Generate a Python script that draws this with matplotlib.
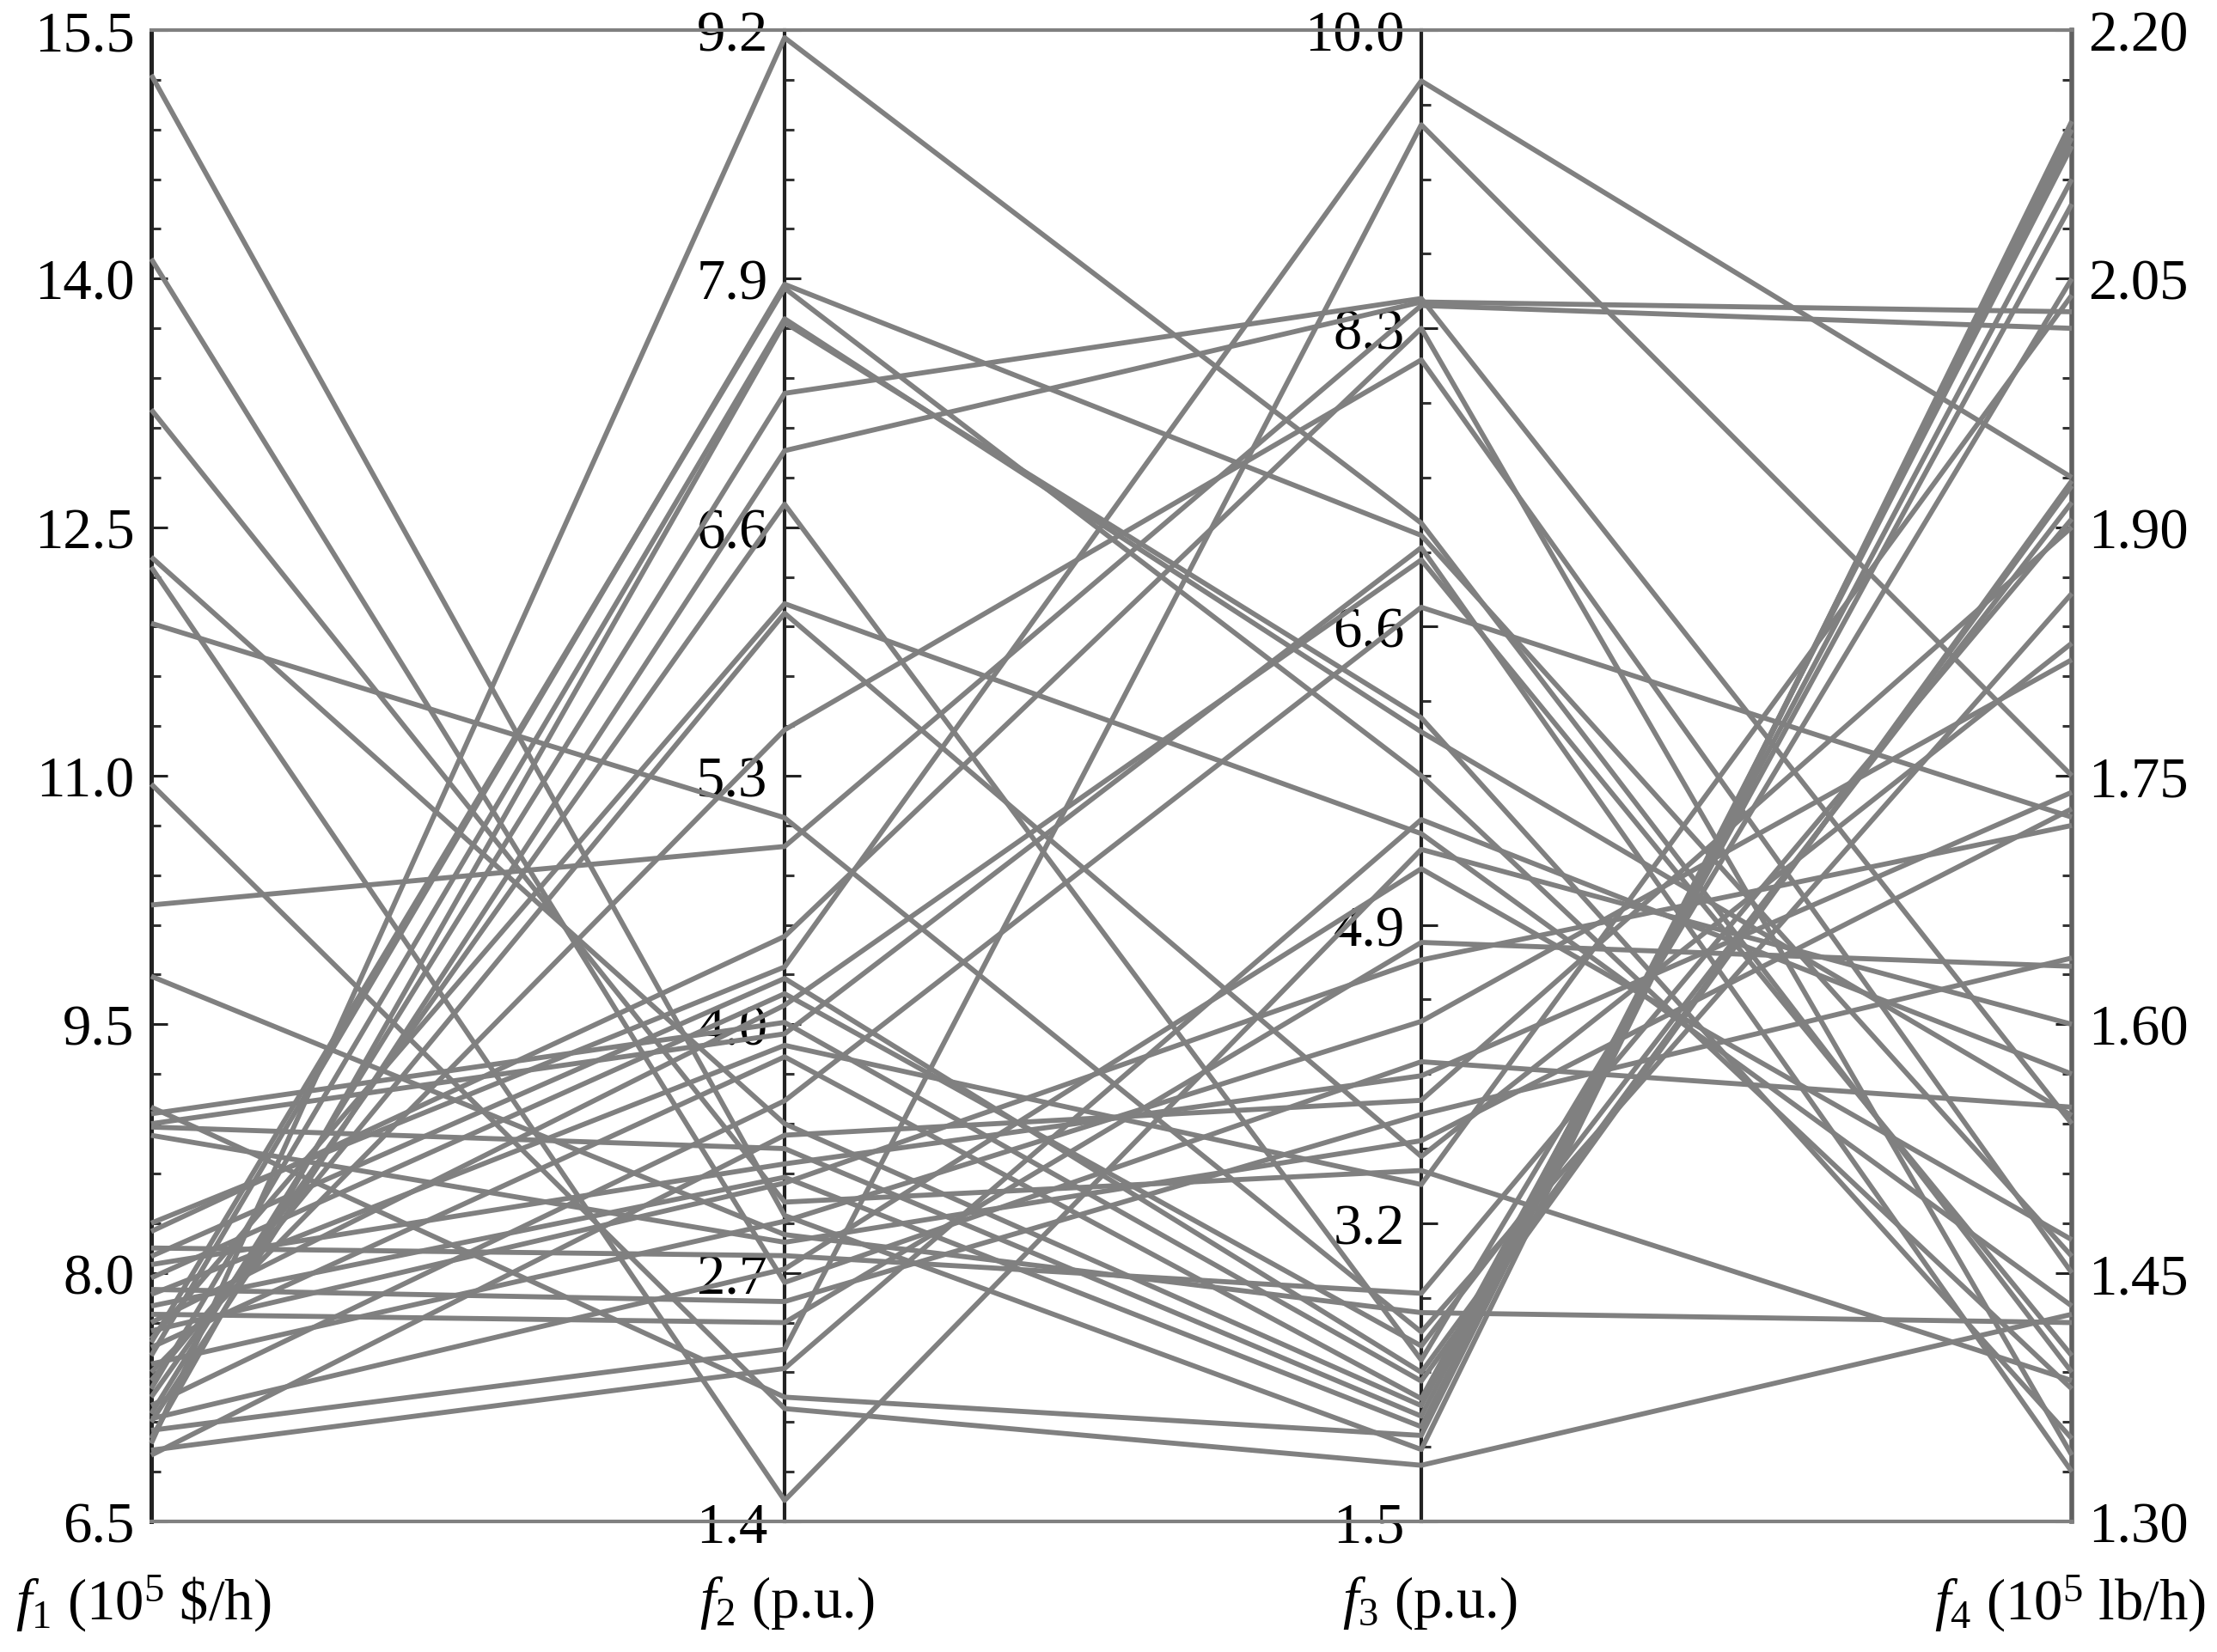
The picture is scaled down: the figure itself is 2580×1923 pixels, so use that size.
import numpy as np
import matplotlib
matplotlib.use('Agg')
import matplotlib.pyplot as plt
from matplotlib.ticker import AutoMinorLocator, FormatStrFormatter

plt.rcParams['font.family'] = ['Liberation Serif', 'DejaVu Serif']
plt.rcParams['mathtext.fontset'] = 'custom'
plt.rcParams['mathtext.rm'] = 'Liberation Serif'
plt.rcParams['mathtext.it'] = 'Liberation Serif:italic'

# objective values of each solution (one entry per solution)
f1 = [15.23, 14.12, 13.21, 12.32, 12.26, 11.92, 10.95, 10.22, 9.79, 9.0, 8.96,
      8.9, 8.88, 8.83, 8.3, 8.25, 8.15, 8.1, 8.05, 7.97, 7.9, 7.87, 7.8, 7.75,
      7.7, 7.65, 7.6, 7.58, 7.55, 7.5, 7.45, 7.4, 7.35, 7.3, 7.25, 7.2, 7.15,
      7.12, 7.1, 7.05, 7.0, 6.97, 6.93, 6.9]
f2 = [3.0, 2.65, 3.07, 3.48, 1.51, 5.08, 1.99, 4.93, 2.9, 2.05, 4.01,
      3.95, 3.35, 2.86, 4.3, 4.46, 2.79, 4.24, 3.27, 4.16, 2.55, 3.89, 3.2, 2.44,
      4.1, 3.17, 6.2, 7.85, 3.83, 7.87, 2.97, 5.54, 6.15, 7.69, 6.72, 3.6, 7.3,
      2.72, 7.0, 2.3, 7.67, 9.16, 2.2, 3.42]
f3 = [1.91, 4.12, 3.5, 2.16, 5.33, 2.58, 1.82, 8.43, 2.69, 1.99, 2.3,
      7.05, 2.1, 3.67, 9.71, 8.3, 2.8, 2.35, 4.04, 2.5, 3.82, 3.42, 2.04, 4.8,
      6.98, 4.7, 5.42, 5.75, 2.2, 7.12, 4.35, 8.12, 3.58, 6.0, 2.42, 6.71, 8.47,
      5.22, 8.45, 9.46, 6.08, 7.19, 5.5, 3.9]
f4 = [2.145, 1.55, 1.385, 2.11, 1.60, 1.86, 1.425, 2.02, 1.42, 2.14, 1.928,
      1.33, 2.13, 1.73, 1.93, 1.34, 1.905, 1.925, 1.74, 1.915, 1.64, 2.04, 2.135, 1.635,
      1.40, 1.72, 1.43, 1.38, 2.095, 1.46, 1.82, 1.45, 1.83, 1.545, 2.05, 1.725, 1.54,
      1.47, 2.03, 1.75, 1.35, 1.39, 1.57, 1.90]

# axis ranges, tick steps and labels
lows = [6.5, 1.4, 1.5, 1.30]
highs = [15.5, 9.2, 10.0, 2.20]
steps = [1.5, 1.3, 1.7, 0.15]
minors = [5, 5, 4, 5]
fmts = ['%.1f', '%.1f', '%.1f', '%.2f']
names = [r'$f_1$ (10$^5$ \$/h)', r'$f_2$ (p.u.)', r'$f_3$ (p.u.)',
         r'$f_4$ (10$^5$ lb/h)']
xpos = [0.0, 0.3298, 0.6613, 1.0]

fig = plt.figure(figsize=(12.9, 9.62), dpi=200)
ax = fig.add_axes([0.0682, 0.079, 0.8663, 0.9023])
ax.set_xlim(0, 1)
ax.set_ylim(0, 1)
ax.set_xticks([])
ax.set_yticks([])
ax.spines['left'].set_visible(False)
ax.spines['right'].set_visible(False)
for s in ['top', 'bottom']:
    ax.spines[s].set_color('#808080')
    ax.spines[s].set_linewidth(1.5)

# scale every objective to 0..1 so they share one axes
data = np.array([f1, f2, f3, f4])
norm = (data - np.array(lows)[:, None]) / (np.array(highs) - np.array(lows))[:, None]
for k in range(data.shape[1]):
    ax.plot(xpos, norm[:, k], color='#808080', lw=2.1, solid_capstyle='butt',
            clip_on=False, zorder=2)

# one y axis per objective
for i in range(4):
    lo, hi = lows[i], highs[i]
    fwd = lambda n, lo=lo, hi=hi: lo + n * (hi - lo)
    inv = lambda v, lo=lo, hi=hi: (v - lo) / (hi - lo)
    loc = 'right' if i == 3 else xpos[i]
    sec = ax.secondary_yaxis(loc, functions=(fwd, inv))
    ticks = np.round(np.arange(lo, hi + steps[i] / 2, steps[i]), 3)
    sec.set_yticks(ticks)
    sec.yaxis.set_major_formatter(FormatStrFormatter(fmts[i]))
    sec.yaxis.set_minor_locator(AutoMinorLocator(minors[i]))
    side = 'right' if i == 3 else 'left'
    other = 'left' if i == 3 else 'right'
    # labels of f3 also go on the left of its axis
    if side == 'left':
        sec.yaxis.tick_left()
    sec.spines[side].set_visible(True)
    sec.spines[other].set_visible(False)
    sec.tick_params(which='major', direction='in', length=7, width=1.1,
                    labelsize=24, pad=7, color='#222222')
    sec.tick_params(which='minor', direction='in', length=4, width=1.1,
                    color='#333333')
    if i == 3:
        sec.spines[side].set_color('#606060')
        sec.spines[side].set_linewidth(2.0)
    else:
        sec.spines[side].set_color('#222222')
        sec.spines[side].set_linewidth(1.8 if i == 0 else 1.5)

# objective names under the axes
fig.text(0.007, 0.03, names[0], fontsize=24, ha='left', va='center')
fig.text(0.355, 0.03, names[1], fontsize=24, ha='center', va='center')
fig.text(0.645, 0.03, names[2], fontsize=24, ha='center', va='center')
fig.text(0.995, 0.03, names[3], fontsize=24, ha='right', va='center')

plt.savefig('out.png', dpi=200)
